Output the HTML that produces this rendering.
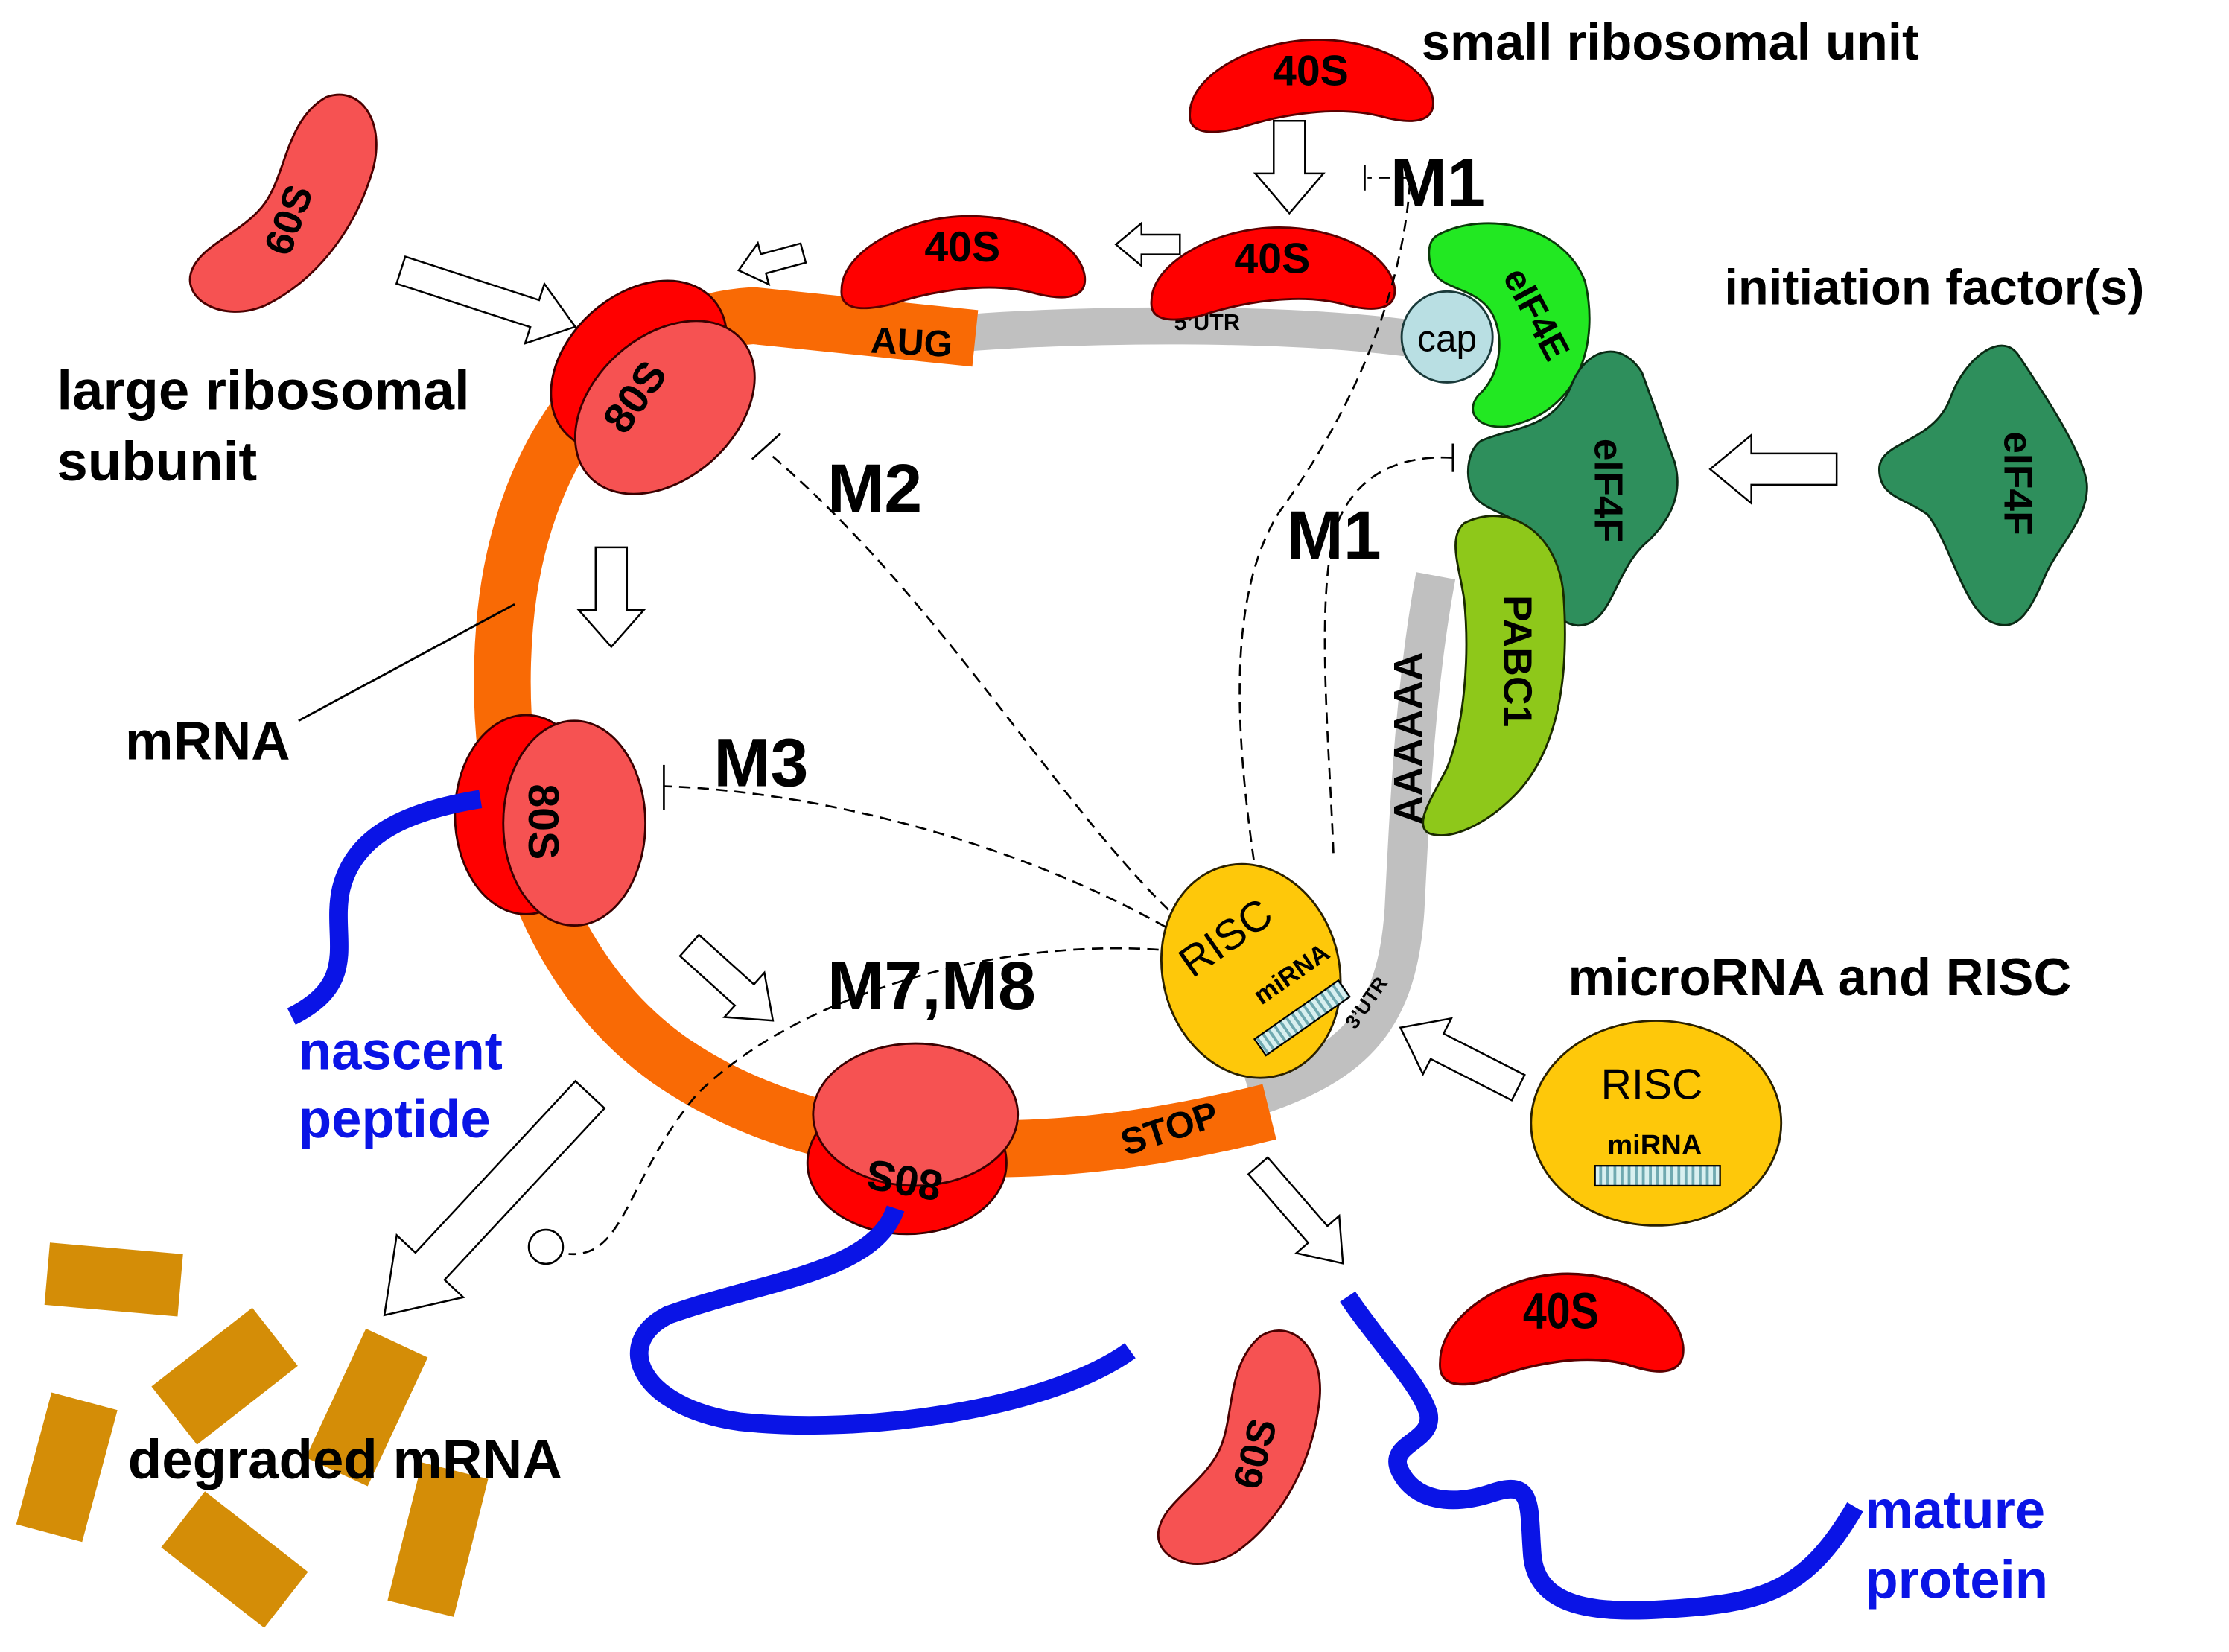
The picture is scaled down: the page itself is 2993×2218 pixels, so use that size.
<!DOCTYPE html>
<html><head><meta charset="utf-8"><style>
html,body{margin:0;padding:0;background:#fff}
svg{display:block}
text{font-family:"Liberation Sans",Arial,sans-serif;font-weight:bold}
</style></head><body>
<svg width="2993" height="2218" viewBox="0 0 1568 1162" xmlns="http://www.w3.org/2000/svg">
<defs>
<pattern id="hatch" width="5" height="5" patternUnits="userSpaceOnUse">
<rect width="5" height="5" fill="#d8f0f0"/><rect width="2" height="5" fill="#6fa9b0"/></pattern>
<g id="s40"><path d="M-85,22 C-85,-5 -40,-30 5,-30 C45,-30 82,-12 86,12 C88,28 72,30 50,24 C20,16 -20,22 -50,32 C-75,38 -86,34 -85,22Z" fill="#f00" stroke="#5a0000" stroke-width="1.5"/><text x="0" y="2" font-size="30" text-anchor="middle">40S</text></g>
<g id="s60"><path d="M-20,-80 C0,-98 28,-78 30,-40 C33,0 22,42 -5,72 C-28,95 -62,90 -62,68 C-62,48 -38,30 -32,5 C-26,-20 -40,-55 -20,-80Z" fill="#f65252" stroke="#4a0000" stroke-width="1.5"/></g>
<g id="s80"><ellipse cx="-18" cy="-2" rx="50" ry="70" fill="#f00" stroke="#3a0000" stroke-width="1.5"/><ellipse cx="16" cy="4" rx="50" ry="72" fill="#f65252" stroke="#3a0000" stroke-width="1.5"/></g>
</defs>

<!-- mRNA -->
<path d="M682,234 C760,228 900,226 992,238" fill="none" stroke="#c0c0c0" stroke-width="26"/>
<path d="M880,772 C955,748 983,715 988,640 C992,560 996,480 1010,405" fill="none" stroke="#c0c0c0" stroke-width="28"/>
<path d="M686,238 L530,222 C430,228 365,320 355,440 C345,560 380,680 470,745 C560,808 700,830 893,782" fill="none" stroke="#f96a05" stroke-width="40"/>
<text x="0" y="0" font-size="26" transform="translate(612,248) rotate(3)">AUG</text>
<text x="0" y="0" font-size="26" transform="translate(792,813) rotate(-18)">STOP</text>
<text x="826" y="232" font-size="16">5’UTR</text>
<text x="0" y="0" font-size="28" transform="translate(1000,580) rotate(-90)">AAAAAA</text>

<line x1="210" y1="507" x2="362" y2="425" stroke="#000" stroke-width="1.5"/>

<!-- ribosomes -->
<g transform="translate(460,272) rotate(48)"><use href="#s80"/></g>
<text x="0" y="0" font-size="30" text-anchor="middle" transform="translate(455,285) rotate(-55)">80S</text>
<g transform="translate(388,575)"><use href="#s80"/></g>
<text x="0" y="0" font-size="30" text-anchor="middle" transform="translate(372,578) rotate(90)">80S</text>
<g transform="translate(640,800) rotate(-90)"><use href="#s80"/></g>
<text x="0" y="0" font-size="30" text-anchor="middle" transform="translate(638,820) rotate(190)">80S</text>

<use href="#s40" transform="translate(922,58)"/>
<use href="#s40" transform="translate(895,190)"/>
<use href="#s40" transform="translate(677,182)"/>
<g transform="translate(1098,932) scale(1,1.2)"><use href="#s40"/></g>

<g transform="translate(218,150) rotate(22)"><use href="#s60"/></g>
<text x="0" y="0" font-size="28" text-anchor="middle" transform="translate(212,158) rotate(-70)">60S</text>
<g transform="translate(890,1022) rotate(12)"><use href="#s60"/></g>
<text x="0" y="0" font-size="28" text-anchor="middle" transform="translate(892,1025) rotate(-75)">60S</text>

<!-- initiation factors -->
<path d="M1012,165 C1045,148 1100,158 1115,198 C1125,240 1112,290 1060,300 C1040,302 1030,290 1040,278 C1058,262 1058,232 1048,218 C1035,200 1010,205 1006,185 C1004,175 1006,168 1012,165Z" fill="#22e822" stroke="#0a3a0a" stroke-width="1.5"/>
<text x="0" y="0" font-size="26" text-anchor="middle" transform="translate(1073,225) rotate(62)">eIF4E</text>
<circle cx="1018" cy="237" r="32" fill="#b9dfe3" stroke="#1a3a3a" stroke-width="1.5"/>
<text x="1018" y="247" font-size="26" style="font-weight:normal" text-anchor="middle">cap</text>
<path d="M1042,310 C1065,300 1092,302 1105,272 C1115,245 1140,238 1155,262 L1178,325 C1185,350 1172,368 1160,380 C1135,400 1135,440 1110,440 C1085,438 1086,400 1080,380 C1070,360 1042,362 1035,345 C1030,330 1034,315 1042,310Z" fill="#2e8f5c" stroke="#0a2a14" stroke-width="1.5"/>
<text x="0" y="0" font-size="28" text-anchor="middle" transform="translate(1122,345) rotate(90)">eIF4F</text>
<path d="M1322,330 C1322,310 1360,312 1372,280 C1382,252 1408,232 1420,250 C1440,280 1465,318 1468,340 C1470,362 1450,382 1440,402 C1428,430 1420,445 1402,438 C1382,430 1372,382 1356,362 C1340,350 1322,350 1322,330Z" fill="#2e8f5c" stroke="#0a2a14" stroke-width="1.5"/>
<text x="0" y="0" font-size="28" text-anchor="middle" transform="translate(1410,340) rotate(90)">eIF4F</text>
<path d="M1030,368 C1062,352 1097,375 1100,420 C1104,480 1095,530 1065,560 C1045,580 1020,592 1005,586 C994,580 1008,560 1018,540 C1030,510 1034,462 1030,422 C1027,400 1018,378 1030,368Z" fill="#8ec81a" stroke="#1a2a00" stroke-width="1.5"/>
<text x="0" y="0" font-size="28" text-anchor="middle" transform="translate(1058,465) rotate(90)">PABC1</text>

<!-- RISC -->
<ellipse cx="880" cy="683" rx="62" ry="76" transform="rotate(-15 880 683)" fill="#fec80a" stroke="#2a2000" stroke-width="1.5"/>
<text x="0" y="0" font-size="30" style="font-weight:normal" text-anchor="middle" transform="translate(868,668) rotate(-35)">RISC</text>
<text x="0" y="0" font-size="18" text-anchor="middle" transform="translate(912,690) rotate(-35)">miRNA</text>
<rect x="-36" y="-7" width="72" height="14" fill="url(#hatch)" stroke="#000" stroke-width="1.2" transform="translate(916,716) rotate(-35)"/>
<text x="0" y="0" font-size="14" text-anchor="middle" transform="translate(965,708) rotate(-55)">3’UTR</text>
<ellipse cx="1165" cy="790" rx="88" ry="72" fill="#fec80a" stroke="#2a2000" stroke-width="1.5"/>
<text x="1162" y="773" font-size="30" style="font-weight:normal" text-anchor="middle">RISC</text>
<text x="1164" y="812" font-size="20" text-anchor="middle">miRNA</text>
<rect x="1122" y="820" width="88" height="14" fill="url(#hatch)" stroke="#000" stroke-width="1.2"/>

<!-- hollow arrows -->
<g fill="#fff" stroke="#000" stroke-width="1.3">
<path d="M0,-11 H37 V-24 L65,0 L37,24 V11 H0Z" transform="translate(907,85) rotate(90)"/>
<path d="M0,-7 H27 V-15 L45,0 L27,15 V7 H0Z" transform="translate(830,172) rotate(180)"/>
<path d="M0,-7 H29 V-15 L47,0 L29,15 V7 H0Z" transform="translate(565,178) rotate(165)"/>
<path d="M0,-10 H99 V-22 L129,0 L99,22 V10 H0Z" transform="translate(282,190) rotate(18)"/>
<path d="M0,-11 H44 V-23 L70,0 L44,23 V11 H0Z" transform="translate(430,385) rotate(90)"/>
<path d="M0,-10 H52 V-21 L79,0 L52,21 V10 H0Z" transform="translate(485,665) rotate(42)"/>
<path d="M0,-11 H60 V-24 L89,0 L60,24 V11 H0Z" transform="translate(1292,330) rotate(180)"/>
<path d="M0,-10 H64 V-22 L93,0 L64,22 V10 H0Z" transform="translate(1068,765) rotate(207)"/>
<path d="M0,-9 H64 V-20 L91,0 L64,20 V9 H0Z" transform="translate(885,820) rotate(49)"/>
<path d="M0,-14 H165 V-32 L212,0 L165,32 V14 H0Z" transform="translate(415,770) rotate(133)"/>
</g>

<!-- dashed connectors -->
<g fill="none" stroke="#000" stroke-width="1.4" stroke-dasharray="8,5">
<path d="M882,605 C870,520 862,420 900,360 C955,285 988,200 992,125 L962,125"/>
<path d="M938,600 C935,520 925,420 940,370 C955,330 990,320 1022,322"/>
<path d="M822,640 C740,560 660,420 540,318"/>
<path d="M820,652 C700,585 560,556 467,553"/>
<path d="M815,668 C700,660 560,700 490,770 C440,830 440,885 400,882"/>
</g>
<g stroke="#000" stroke-width="1.4">
<line x1="960" y1="116" x2="960" y2="134"/>
<line x1="1022" y1="312" x2="1022" y2="332"/>
<line x1="529" y1="323" x2="549" y2="305"/>
<line x1="467" y1="538" x2="467" y2="570"/>
</g>
<circle cx="384" cy="877" r="12" fill="#fff" stroke="#000" stroke-width="1.4"/>

<!-- peptides -->
<g fill="none" stroke="#0a14e6" stroke-width="13" stroke-linejoin="round" stroke-linecap="butt">
<path d="M338,562 C290,570 250,585 240,625 C232,660 255,690 205,715"/>
<path d="M630,850 C615,895 540,900 470,925 C430,945 450,990 520,1000 C610,1010 740,990 795,950"/>
<path d="M948,912 C970,945 1000,975 1005,995 C1008,1015 975,1015 985,1035 C995,1055 1020,1060 1050,1050 C1080,1040 1075,1060 1078,1095 C1082,1130 1120,1135 1170,1132 C1240,1128 1270,1120 1305,1060"/>
</g>

<!-- degraded mRNA -->
<g fill="#d48d07">
<rect x="-47" y="-22" width="94" height="44" transform="translate(80,900) rotate(5)"/>
<rect x="-45" y="-26" width="90" height="52" transform="translate(158,968) rotate(-38)"/>
<rect x="-24" y="-50" width="48" height="100" transform="translate(258,990) rotate(25)"/>
<rect x="-24" y="-48" width="48" height="96" transform="translate(47,1032) rotate(15)"/>
<rect x="-46" y="-25" width="92" height="50" transform="translate(165,1097) rotate(38)"/>
<rect x="-24" y="-50" width="48" height="100" transform="translate(308,1083) rotate(14)"/>
</g>

<!-- labels -->
<text x="1000" y="42" font-size="36">small ribosomal unit</text>
<text x="978" y="145" font-size="48">M1</text>
<text x="1213" y="214" font-size="35">initiation factor(s)</text>
<text x="40" y="288" font-size="39">large ribosomal</text>
<text x="40" y="338" font-size="39">subunit</text>
<text x="582" y="360" font-size="48">M2</text>
<text x="905" y="393" font-size="48">M1</text>
<text x="502" y="553" font-size="48">M3</text>
<text x="582" y="710" font-size="48">M7,M8</text>
<text x="88" y="534" font-size="38">mRNA</text>
<text x="210" y="752" font-size="38" fill="#0a14e6">nascent</text>
<text x="210" y="800" font-size="38" fill="#0a14e6">peptide</text>
<text x="1103" y="700" font-size="37">microRNA and RISC</text>
<text x="90" y="1040" font-size="39">degraded mRNA</text>
<text x="1312" y="1075" font-size="38" fill="#0a14e6">mature</text>
<text x="1312" y="1124" font-size="38" fill="#0a14e6">protein</text>
</svg>
</body></html>
